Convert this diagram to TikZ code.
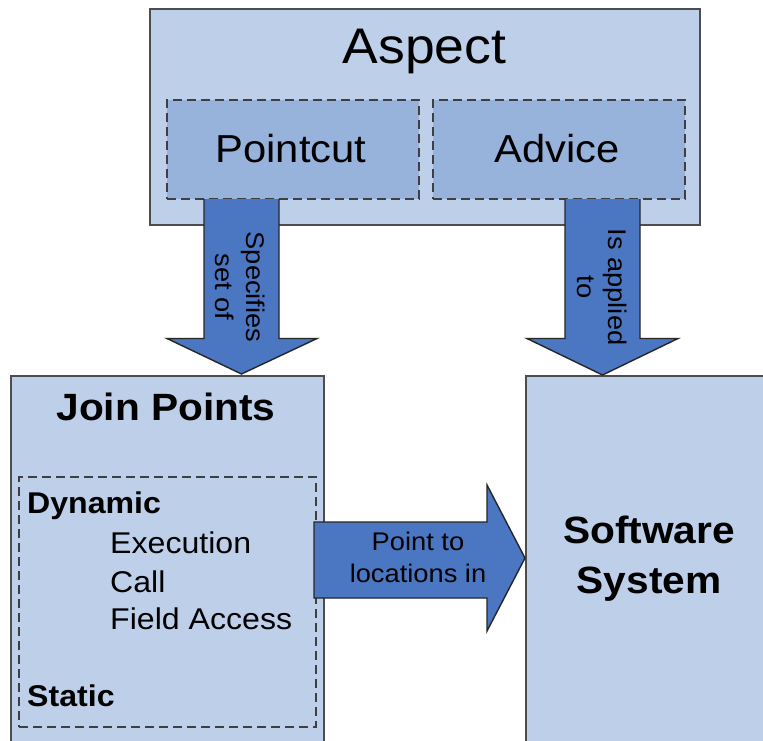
\documentclass[tikz,border=0pt]{standalone}
\usepackage{fontspec}
\setmainfont{Liberation Sans}[FakeStretch=1.07]
\usetikzlibrary{calc}
\definecolor{boxfill}{HTML}{BED0E9}
\definecolor{innerfill}{HTML}{97B3DC}
\definecolor{arrowfill}{HTML}{4A76C2}
\definecolor{boxline}{HTML}{4D4D4D}
\definecolor{dashline}{HTML}{3F3F3F}
\begin{document}
\begin{tikzpicture}[x=1pt,y=-1pt,
  outerbox/.style={draw=boxline, line width=1.7pt, fill=boxfill, anchor=north west, inner sep=0pt},
  innerbox/.style={draw=dashline, dash pattern=on 9pt off 5pt, line width=1.7pt, fill=innerfill, anchor=north west, inner sep=0pt},
  arrowbody/.style={fill=arrowfill, draw=black!85, line width=1.4pt, line join=miter},
  lbl/.style={inner sep=0pt, align=center},
  title/.style={lbl, font=\fontsize{50}{60}\selectfont},
  sub/.style={lbl, font=\fontsize{39}{47}\selectfont},
  bigbold/.style={lbl, font=\fontsize{38}{50}\selectfont\bfseries},
  item/.style={lbl, anchor=base west, font=\fontsize{30}{36}\selectfont},
  itembold/.style={lbl, anchor=base west, font=\fontsize{30}{36}\selectfont\bfseries},
  arrowtext/.style={lbl, font=\fontsize{25.5}{31}\selectfont}]
\useasboundingbox (0,0) rectangle (763,740);
\clip (0,0) rectangle (763,740);
\fill[white] (0,0) rectangle (763,740);

% boxes
\node[outerbox, minimum width=550pt, minimum height=216pt] (aspect) at (149,8) {};
\node[innerbox, minimum width=252pt, minimum height=99pt] (pointcut) at (166,99) {};
\node[innerbox, minimum width=252pt, minimum height=99pt] (advice) at (432,99) {};
\node[outerbox, minimum width=313pt, minimum height=400pt] (join) at (10,375) {};
\node[innerbox, fill=none, minimum width=297pt, minimum height=250pt] (joininner) at (18,476) {};
\node[outerbox, minimum width=260pt, minimum height=400pt] (soft) at (525,375) {};

% block arrows
\coordinate (p1) at (241.5,199);
\coordinate (p2) at (602.5,199);
\coordinate (p3) at (314,560);
\fill[arrowfill] ($(p1)+(-37.5,0)$) -- ++(0,139.5) -- ++(-37,0) -- ($(p1)+(0,175)$) -- ($(p1)+(75.5,139.5)$) -- ($(p1)+(37.5,139.5)$) -- ($(p1)+(37.5,0)$) -- cycle;
\draw[arrowbody, fill=none] ($(p1)+(-37.5,0)$) -- ++(0,139.5) -- ++(-37,0) -- ($(p1)+(0,175)$) -- ($(p1)+(75.5,139.5)$) -- ($(p1)+(37.5,139.5)$) -- ($(p1)+(37.5,0)$);
\fill[arrowfill] ($(p2)+(-37.5,0)$) -- ++(0,139.5) -- ++(-38,0) -- ($(p2)+(0,176)$) -- ($(p2)+(75.5,139.5)$) -- ($(p2)+(37.5,139.5)$) -- ($(p2)+(37.5,0)$) -- cycle;
\draw[arrowbody, fill=none] ($(p2)+(-37.5,0)$) -- ++(0,139.5) -- ++(-38,0) -- ($(p2)+(0,176)$) -- ($(p2)+(75.5,139.5)$) -- ($(p2)+(37.5,139.5)$) -- ($(p2)+(37.5,0)$);
\draw[arrowbody] ($(p3)+(0,-38)$) -- ++(173,0) -- ++(0,-37) -- ($(p3)+(211,-2)$) -- ($(p3)+(173,71)$) -- ($(p3)+(173,38)$) -- ($(p3)+(0,38)$) -- cycle;

% texts
\node[title, anchor=base] (tAspect) at (424.5,63) {Aspect};
\node[sub, anchor=base] (tPointcut) at (291,162) {Pointcut};
\node[sub, anchor=base] (tAdvice) at (557,162) {Advice};
\node[bigbold, anchor=base] (tJoin) at (166,420) {Join Points};
\node[itembold] (tDyn) at (27,513) {Dynamic};
\node[item] (tExec) at (110,553) {Execution};
\node[item] (tCall) at (110,592) {Call};
\node[item] (tField) at (110,629) {Field Access};
\node[itembold] (tStatic) at (27,706) {Static};
\node[bigbold, anchor=base] (tSoft1) at (649,543) {Software};
\node[bigbold, anchor=base] (tSoft2) at (649,593) {System};
\node[arrowtext, anchor=base] (tPoint1) at (418,550) {Point to};
\node[arrowtext, anchor=base] (tPoint2) at (418,582) {locations in};
\node[arrowtext, rotate=-90] (tSpec) at (240.5,287) {Specifies\\set of};
\node[arrowtext, rotate=-90] (tApplied) at (602,287) {Is applied\\to};
\end{tikzpicture}
\end{document}
